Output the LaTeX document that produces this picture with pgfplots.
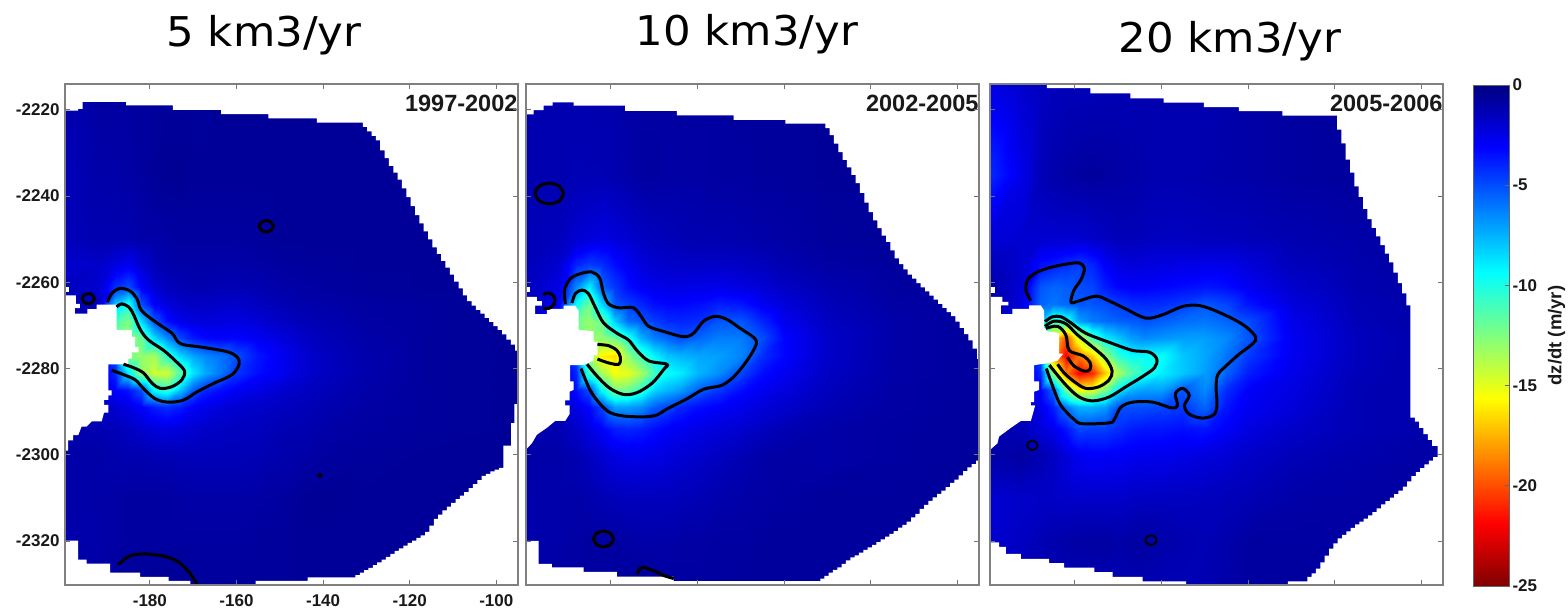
\documentclass[border=0pt]{standalone}
\usepackage{fontspec}
\setmainfont{Liberation Sans}
\newfontfamily\titlefont[FakeStretch=1.06]{DejaVu Sans}
\usepackage{pgfplots}
\pgfplotsset{compat=1.18}
\def\popv#1\\#2\popend{\def\val{#1}\gdef\rest{#2}}
\newcommand{\makefield}[1]{\gdef\rest{#1}\gdef\acc{}%
 \foreach \yy in {-2214,-2235,-2250,-2256,-2261,-2265,-2269,-2273,-2277,-2281,-2285,-2289,-2294,-2300,-2310,-2320,-2331}{%
  \foreach \xx in {-200,-192,-188,-185,-182,-179,-176,-173,-170,-167,-164,-160,-155,-150,-145,-140,-130,-115,-95}{%
   \expandafter\popv\rest\popend\xdef\acc{\acc(\xx,\yy)[\val]}}}%
 \edef\tmp{\noexpand\addplot[field] coordinates {\acc};}\tmp}
\tikzset{yr/.style={font=\bfseries\fontsize{23.5}{23.5}\selectfont,anchor=north east,text=black!90}}
\pgfplotsset{
 colormap={rjet}{rgb255(0cm)=(128,0,0); rgb255(1cm)=(255,0,0); rgb255(3cm)=(255,255,0); rgb255(5cm)=(0,255,255); rgb255(7cm)=(0,0,255); rgb255(8cm)=(0,0,128)},
 table/pa/.style={row sep=crcr,header=false,x expr={-180+(\thisrowno{0}-449)*0.0773},y expr={-2220-(\thisrowno{1}-118)*0.0801}},
 table/pb/.style={row sep=crcr,header=false,x expr={-180+(\thisrowno{0}-272)*0.077},y expr={-2220-(\thisrowno{1}-117)*0.0799}},
 table/pc/.style={row sep=crcr,header=false,x expr={-180+(\thisrowno{0}-267)*0.0771},y expr={-2220-(\thisrowno{1}-118)*0.08}},
 panel/.style={scale only axis,width=453pt,height=501pt,anchor=south west,
  xmin=-199.6,xmax=-95,ymin=-2330.2,ymax=-2214,axis on top,
  xtick={-180,-160,-140,-120,-100},ytick={-2320,-2300,-2280,-2260,-2240,-2220},
  tick align=inside,major tick length=5pt,tick style={gray!90!black,line width=0.8pt},
  axis line style={gray,line width=1.2pt},
  colormap name=rjet,point meta min=-25,point meta max=0,
  ticklabel style={font=\bfseries\fontsize{17}{17}\selectfont,text=black!90},
  /pgf/number format/assume math mode=true,/pgf/number format/1000 sep={},
  xticklabel style={yshift=-6pt},yticklabel style={xshift=-2pt}},
 field/.style={surf,shader=interp,mesh/cols=19,point meta=explicit},
 ct/.style={black,line width=3pt,smooth,tension=0.55},
 wm/.style={fill=white,draw=none,const plot},
 wp/.style={fill=white,draw=none}
}
\newcommand{\ttl}[3]{\node[font=\titlefont\fontsize{41}{41}\selectfont,anchor=base] at (#1pt,#2pt) {#3};}
\begin{document}
\begin{tikzpicture}[x=1pt,y=1pt]
\path[use as bounding box] (0,0) rectangle (1568,610);
\ttl{264}{563}{5 km3/yr}
\ttl{747}{564}{10 km3/yr}
\ttl{1230}{557}{20 km3/yr}
% ---------- panel 1
\begin{axis}[panel,at={(65pt,25pt)}]
\makefield{
-1\\-0.8\\-0.8\\-0.8\\-0.7\\-0.7\\-0.7\\-0.7\\-0.7\\-0.7\\-0.6\\-0.6\\-0.6\\-0.6\\-0.6\\-0.6\\-0.6\\-0.6\\-0.6\\
-1.5\\-1\\-1\\-0.9\\-0.8\\-0.6\\-0.5\\-0.5\\-0.6\\-0.6\\-0.6\\-0.6\\-0.6\\-0.6\\-0.6\\-0.6\\-0.6\\-0.6\\-0.6\\
-1.5\\-1.2\\-1.2\\-1.2\\-1\\-1\\-0.9\\-0.8\\-0.8\\-0.8\\-0.8\\-0.8\\-0.7\\-0.6\\-0.6\\-0.6\\-0.6\\-0.6\\-0.6\\
-2\\-1.8\\-2.4\\-2.8\\-2\\-1.4\\-1.1\\-1\\-1\\-1\\-1\\-1\\-0.9\\-0.8\\-0.7\\-0.7\\-0.6\\-0.6\\-0.6\\
-1.5\\-2\\-4.2\\-5\\-3\\-2\\-1.5\\-1.3\\-1.2\\-1.2\\-1.3\\-1.3\\-1.2\\-1\\-0.9\\-0.8\\-0.7\\-0.6\\-0.6\\
-1\\-1.5\\-8\\-10\\-5\\-3\\-2.2\\-1.8\\-1.7\\-1.7\\-1.8\\-1.9\\-1.6\\-1.3\\-1.1\\-1\\-0.8\\-0.7\\-0.6\\
-1\\-2\\-11\\-12.5\\-8.5\\-5.2\\-3.4\\-2.6\\-2.3\\-2.2\\-2.3\\-2.4\\-2.1\\-1.7\\-1.4\\-1.2\\-0.9\\-0.7\\-0.6\\
-2\\-3\\-12\\-13\\-12\\-8.5\\-6.5\\-4.8\\-3.7\\-3.2\\-3.1\\-3.2\\-2.8\\-2.3\\-1.8\\-1.4\\-1\\-0.7\\-0.6\\
-2\\-2\\-5\\-12.5\\-13\\-13.5\\-10.5\\-8.5\\-7.2\\-6.4\\-6\\-5\\-3.6\\-2.8\\-2.1\\-1.6\\-1.1\\-0.7\\-0.6\\
-2\\-2\\-4\\-9\\-13\\-14.5\\-14.5\\-11.5\\-8.8\\-7.2\\-6.2\\-4.4\\-3.4\\-2.8\\-2.1\\-1.6\\-1.1\\-0.7\\-0.6\\
-1.5\\-2\\-3\\-3.6\\-5\\-9.5\\-10.5\\-8\\-5.3\\-4\\-3.5\\-2.9\\-2.4\\-2\\-1.7\\-1.4\\-1\\-0.7\\-0.6\\
-1\\-1.5\\-2\\-2.4\\-3\\-3.8\\-4.2\\-3.8\\-3\\-2.6\\-2.3\\-2\\-1.8\\-1.6\\-1.4\\-1.2\\-0.9\\-0.7\\-0.6\\
-1\\-1.2\\-1.4\\-1.6\\-1.9\\-2.2\\-2.4\\-2.2\\-2\\-1.8\\-1.7\\-1.6\\-1.5\\-1.3\\-1.2\\-1\\-0.8\\-0.7\\-0.6\\
-1\\-1\\-1.1\\-1.2\\-1.2\\-1.3\\-1.3\\-1.4\\-1.4\\-1.4\\-1.4\\-1.4\\-1.3\\-1.1\\-1\\-0.8\\-0.7\\-0.6\\-0.6\\
-1\\-1\\-0.9\\-0.8\\-0.8\\-0.8\\-0.8\\-0.9\\-1\\-1\\-1\\-1\\-0.9\\-0.8\\-0.6\\-0.5\\-0.6\\-0.6\\-0.6\\
-1.1\\-1\\-0.9\\-0.8\\-0.8\\-0.8\\-0.8\\-0.8\\-0.8\\-0.8\\-0.8\\-0.8\\-0.7\\-0.7\\-0.6\\-0.6\\-0.6\\-0.6\\-0.6\\
-1\\-0.9\\-0.8\\-0.7\\-0.6\\-0.5\\-0.5\\-0.5\\-0.6\\-0.7\\-0.7\\-0.7\\-0.7\\-0.7\\-0.6\\-0.6\\-0.6\\-0.6\\-0.6\\
}
\addplot[wm] table[pa]{
190 35\\190 120\\235 115\\248 95\\378 105\\518 118\\662 130\\803 143\\948 155\\1085 167\\1098 180\\1111 193\\1124 206\\1137 235\\1150 258\\1163 280\\1176 300\\1189 320\\1202 345\\1215 371\\1228 397\\1241 423\\1254 447\\1267 470\\1280 493\\1293 516\\1306 535\\1319 555\\1332 575\\1345 595\\1358 615\\1371 635\\1384 655\\1397 672\\1410 685\\1423 697\\1436 708\\1449 720\\1462 732\\1475 744\\1488 755\\1501 768\\1514 783\\1527 798\\1540 815\\1560 35\\
};
\addplot[wm] table[pa]{
1560 970\\1538 1025\\1528 1090\\1505 1155\\1492 1160\\1479 1165\\1466 1172\\1453 1178\\1440 1190\\1427 1202\\1414 1213\\1401 1225\\1388 1235\\1375 1245\\1362 1256\\1349 1267\\1336 1278\\1323 1290\\1310 1302\\1297 1322\\1284 1340\\1271 1350\\1258 1357\\1245 1365\\1232 1372\\1219 1380\\1206 1388\\1193 1395\\1180 1404\\1167 1412\\1154 1420\\1141 1428\\1128 1436\\1115 1444\\1102 1451\\1089 1458\\1076 1465\\1063 1472\\920 1482\\765 1505\\1560 1505\\
};
\addplot[wm] table[pa]{
570 1482\\505 1470\\420 1458\\330 1432\\260 1420\\235 1365\\190 1505\\570 1505\\
};
\addplot[wp] table[pa]{
190 655\\228 655\\228 680\\240 680\\240 692\\225 692\\225 708\\262 708\\262 695\\290 695\\290 682\\350 682\\350 755\\395 755\\395 775\\405 775\\405 805\\415 805\\415 820\\395 820\\395 838\\385 838\\385 855\\325 855\\325 930\\335 930\\335 945\\325 945\\325 958\\312 958\\312 972\\325 972\\325 995\\312 995\\305 1020\\275 1020\\260 1035\\245 1035\\235 1060\\220 1060\\220 1075\\205 1075\\205 1105\\190 1105\\
};
\addplot[wp] table[pa]{190 630\\207 630\\207 645\\190 645\\};
\addplot[ct] coordinates {(-189.8,-2264.6)(-188.8,-2262.6)(-186.9,-2261.4)(-184.6,-2262)(-183,-2263.8)(-181.9,-2266.6)(-178.4,-2269.4)(-174.9,-2271.8)(-173,-2274.2)(-168.3,-2275)(-162.1,-2276.1)(-159.8,-2277.4)(-159.4,-2279)(-161,-2281.4)(-165.2,-2283.4)(-169.1,-2285.4)(-172.2,-2287.3)(-175.7,-2287.8)(-178.8,-2287)(-181.5,-2284.6)(-183.4,-2282.6)(-186.1,-2281.4)(-188.8,-2280.4)};
\addplot[ct] coordinates {(-187.7,-2265.7)(-186.5,-2265)(-184.9,-2265.7)(-183.8,-2267.4)(-182.2,-2271)(-180.3,-2273.4)(-176.8,-2275.8)(-173.7,-2278.6)(-172,-2280.6)(-172.6,-2282.6)(-174.9,-2284.2)(-177.6,-2284.6)(-179.5,-2283.4)(-181.5,-2281)(-183.8,-2279.8)(-186.1,-2279)};
\addplot[ct] coordinates {(-151.4,-2247)(-152.1,-2246)(-153.1,-2245.7)(-154.1,-2246)(-154.8,-2247)(-154.1,-2248)(-153.1,-2248.3)(-152.1,-2248)(-151.4,-2247)};
\addplot[ct] coordinates {(-192.8,-2263.8)(-193.3,-2262.9)(-194.2,-2262.6)(-195.2,-2263)(-195.6,-2263.8)(-195.1,-2264.7)(-194.2,-2265)(-193.3,-2264.7)(-192.8,-2263.8)};
\addplot[ct,line width=2pt] coordinates {(-140.3,-2304.8)(-140.7,-2304.5)(-141.1,-2304.8)(-140.7,-2305.1)(-140.3,-2304.8)};
\addplot[ct] coordinates {(-187.3,-2325.5)(-184.9,-2323.6)(-181.5,-2323)(-176.8,-2323.5)(-173.7,-2324.7)(-171.4,-2326.7)(-169.1,-2329.9)};
\node[yr] at (rel axis cs:1,1) [xshift=3pt,yshift=-8pt] {1997-2002};
\end{axis}
% ---------- panel 2
\begin{axis}[panel,at={(526pt,25pt)},xticklabels={},yticklabels={}]
\makefield{
-1.2\\-1.2\\-1.2\\-1.1\\-1\\-1\\-0.9\\-0.9\\-0.9\\-0.9\\-0.8\\-0.8\\-0.8\\-0.7\\-0.7\\-0.7\\-0.6\\-0.6\\-0.6\\
-1.2\\-1.2\\-1.3\\-1.3\\-1.3\\-1.2\\-1\\-0.8\\-0.8\\-0.9\\-0.9\\-0.9\\-0.8\\-0.8\\-0.7\\-0.7\\-0.6\\-0.6\\-0.6\\
-1.4\\-1.5\\-2\\-2.2\\-2.4\\-2.2\\-2\\-1.7\\-1.5\\-1.4\\-1.3\\-1.2\\-1.2\\-1.1\\-1\\-0.9\\-0.7\\-0.6\\-0.6\\
-1.4\\-2\\-4\\-4.6\\-4.2\\-3.4\\-2.8\\-2.3\\-2\\-1.9\\-1.8\\-1.8\\-1.8\\-1.7\\-1.5\\-1.2\\-0.9\\-0.7\\-0.6\\
-1.5\\-2.5\\-6.5\\-9\\-5.5\\-4.4\\-3.4\\-2.9\\-2.6\\-2.5\\-2.5\\-2.6\\-2.6\\-2.4\\-2.1\\-1.7\\-1.2\\-0.8\\-0.6\\
-1\\-3\\-9.5\\-12\\-8.2\\-5.2\\-4.6\\-4\\-3.4\\-3.2\\-3.2\\-3.4\\-3.8\\-3.6\\-2.8\\-2.2\\-1.4\\-0.9\\-0.7\\
-1\\-4\\-12\\-13\\-12\\-8\\-5.8\\-5.2\\-4.6\\-4.1\\-4\\-4.2\\-5.2\\-5.2\\-4\\-2.7\\-1.6\\-1\\-0.7\\
-2\\-3\\-12\\-13\\-13\\-12\\-10\\-7.5\\-6.2\\-5.6\\-5\\-5.6\\-6.2\\-6.2\\-5\\-3.2\\-1.8\\-1\\-0.7\\
-2\\-2\\-5\\-13\\-16\\-16.5\\-13\\-11\\-9.2\\-8\\-7.6\\-7.2\\-7\\-6.4\\-4.2\\-3.2\\-1.8\\-1\\-0.7\\
-2\\-2\\-4\\-11\\-13.5\\-15.5\\-15\\-13.5\\-11\\-9.5\\-9\\-7.6\\-6.6\\-4.8\\-3.4\\-2.8\\-1.7\\-1\\-0.7\\
-1.5\\-2\\-3.5\\-5\\-9.5\\-12.5\\-12\\-10.5\\-8.4\\-7.6\\-7\\-5.5\\-4.4\\-3.4\\-2.8\\-2.3\\-1.5\\-0.9\\-0.7\\
-1\\-1.5\\-2.4\\-3.2\\-4.8\\-7\\-7\\-6.6\\-5.4\\-4.8\\-4\\-3.4\\-3\\-2.6\\-2.2\\-1.9\\-1.3\\-0.9\\-0.7\\
-1\\-1.2\\-1.8\\-2.4\\-3\\-3.8\\-4\\-3.8\\-3.4\\-3\\-2.8\\-2.5\\-2.2\\-2\\-1.6\\-1.3\\-1\\-0.8\\-0.7\\
-1\\-1\\-1.2\\-1.6\\-2\\-2.4\\-2.6\\-2.6\\-2.5\\-2.3\\-2.1\\-1.9\\-1.6\\-1.3\\-1\\-0.9\\-1\\-0.8\\-0.7\\
-1.1\\-1\\-1\\-1.1\\-1.3\\-1.4\\-1.5\\-1.5\\-1.5\\-1.5\\-1.4\\-1.3\\-1.1\\-1\\-0.9\\-0.8\\-0.7\\-0.7\\-0.7\\
-1.1\\-1\\-0.9\\-0.8\\-0.8\\-0.8\\-0.9\\-1\\-1\\-1\\-0.9\\-0.9\\-0.8\\-0.8\\-0.7\\-0.7\\-0.7\\-0.7\\-0.7\\
-1\\-0.9\\-0.8\\-0.8\\-0.8\\-0.7\\-0.6\\-0.6\\-0.7\\-0.8\\-0.8\\-0.8\\-0.8\\-0.7\\-0.7\\-0.7\\-0.7\\-0.7\\-0.7\\
}
\addplot[wm] table[pb]{
10 35\\10 130\\40 118\\70 105\\97 95\\160 105\\315 120\\470 133\\640 146\\795 157\\915 170\\928 190\\941 215\\954 240\\967 262\\980 284\\993 306\\1006 330\\1019 358\\1032 386\\1045 414\\1058 438\\1071 460\\1084 482\\1097 500\\1110 525\\1123 548\\1136 565\\1149 580\\1162 595\\1175 607\\1188 620\\1201 632\\1214 644\\1227 656\\1240 668\\1253 680\\1266 692\\1279 704\\1292 716\\1305 732\\1318 750\\1331 768\\1344 786\\1357 810\\1370 840\\1390 35\\
};
\addplot[wm] table[pb]{
1390 1135\\1367 1145\\1354 1155\\1341 1166\\1328 1178\\1315 1190\\1302 1200\\1289 1212\\1276 1222\\1263 1232\\1250 1242\\1237 1252\\1224 1264\\1211 1275\\1198 1290\\1185 1300\\1172 1312\\1159 1322\\1146 1330\\1133 1340\\1120 1348\\1107 1356\\1094 1364\\1081 1372\\1068 1380\\1055 1387\\1042 1394\\1029 1402\\1016 1410\\1003 1416\\990 1425\\977 1435\\964 1445\\951 1452\\938 1460\\925 1470\\912 1478\\900 1485\\460 1472\\290 1458\\190 1445\\95 1435\\55 1368\\10 1505\\1390 1505\\
};
\addplot[wp] table[pb]{
10 660\\50 660\\50 672\\65 672\\65 685\\45 685\\45 710\\80 710\\80 695\\130 695\\130 685\\165 685\\175 700\\175 755\\220 760\\220 790\\232 790\\232 830\\220 830\\220 845\\190 858\\150 858\\150 905\\160 905\\160 930\\148 935\\148 960\\135 960\\135 975\\148 975\\148 1000\\135 1020\\105 1020\\80 1040\\50 1060\\35 1085\\10 1110\\
};
\addplot[wp] table[pb]{10 630\\30 630\\30 645\\10 645\\};
\addplot[ct] coordinates {(-190.5,-2265)(-190.7,-2261.8)(-189.4,-2259.2)(-187.1,-2258)(-184.4,-2257.6)(-182.6,-2259)(-181.7,-2262.6)(-180.5,-2265)(-178.2,-2265.9)(-174.8,-2265.9)(-172.8,-2268.2)(-171.3,-2270.2)(-167.8,-2271.4)(-163.2,-2272.6)(-160.9,-2271.8)(-158.6,-2269)(-155.9,-2267.9)(-153.2,-2268.6)(-150.1,-2270.7)(-147,-2272.8)(-146.4,-2274.2)(-147.8,-2277)(-150.1,-2280.2)(-152.4,-2282.6)(-154.7,-2284)(-158.6,-2284.8)(-162.4,-2287)(-167.1,-2289.4)(-169.4,-2290.8)(-172.5,-2291.2)(-177.1,-2291)(-180.2,-2290.2)(-182.5,-2288.2)(-184.8,-2285)(-186.9,-2280)};
\addplot[ct] coordinates {(-189,-2264.8)(-188.2,-2262.6)(-186.7,-2261.8)(-185.2,-2262.6)(-183.6,-2265.8)(-181.7,-2269.4)(-178.6,-2271.8)(-175.9,-2273.4)(-174,-2275.8)(-171.3,-2278.2)(-167.1,-2279)(-167.8,-2280.2)(-170.5,-2283.4)(-174,-2285.6)(-177.1,-2286)(-180.2,-2284.6)(-182.8,-2282.2)(-185.5,-2279)};
\addplot[ct] coordinates {(-183.1,-2274.4)(-180.5,-2274.7)(-178.6,-2275.8)(-177.8,-2277.4)(-178.2,-2279)(-180.5,-2278.7)(-183.1,-2277.8)};
\addplot[ct] coordinates {(-190.9,-2239.4)(-191.9,-2237.7)(-194.2,-2237)(-196.5,-2237.7)(-197.5,-2239.4)(-196.5,-2241.1)(-194.2,-2241.8)(-191.9,-2241.1)(-190.9,-2239.4)};
\addplot[ct] coordinates {(-179.4,-2319.5)(-180.1,-2318.2)(-181.7,-2317.7)(-183.3,-2318.2)(-184,-2319.5)(-183.3,-2320.8)(-181.7,-2321.3)(-180.1,-2320.8)(-179.4,-2319.5)};
\addplot[ct] coordinates {(-195.6,-2262.8)(-194.2,-2262.5)(-193,-2263.5)(-193.1,-2265)(-194.2,-2266)(-195.6,-2266)};
\addplot[ct] coordinates {(-174,-2327.7)(-172.8,-2326.1)(-170.1,-2326.9)(-167.8,-2328)(-165.5,-2328.7)};
\node[yr] at (rel axis cs:1,1) [xshift=3pt,yshift=-8pt] {2002-2005};
\end{axis}
% ---------- panel 3
\begin{axis}[panel,at={(990pt,25pt)},xticklabels={},yticklabels={}]
\makefield{
-2.5\\-1.8\\-1.6\\-1.5\\-1.4\\-1.4\\-1.4\\-1.4\\-1.3\\-1.3\\-1.2\\-1.2\\-1.2\\-1.2\\-1.1\\-1\\-0.8\\-0.7\\-0.7\\
-4.2\\-2.5\\-1.4\\-1.1\\-0.9\\-0.8\\-0.7\\-0.8\\-0.9\\-1\\-1.1\\-1.2\\-1.2\\-1.1\\-1\\-1\\-0.8\\-0.7\\-0.7\\
-2.2\\-2\\-2\\-2\\-2\\-2\\-1.8\\-1.6\\-1.4\\-1.4\\-1.5\\-1.6\\-1.6\\-1.5\\-1.5\\-1.4\\-1.2\\-1\\-0.8\\
-1.4\\-2\\-3.4\\-3.8\\-4.2\\-4.6\\-4\\-3\\-2.4\\-2.2\\-2.3\\-2.4\\-2.5\\-2.6\\-2.6\\-2.2\\-1.5\\-1.1\\-0.8\\
-1\\-2.2\\-5.2\\-5.6\\-5.4\\-5\\-4.8\\-3.8\\-3.2\\-3\\-3\\-3.2\\-3.4\\-3.6\\-3.4\\-2.8\\-1.9\\-1.2\\-0.8\\
-0.8\\-2.5\\-5.5\\-6\\-5.6\\-5.2\\-5.2\\-5\\-4.6\\-4.2\\-4.1\\-4.2\\-4.6\\-5.2\\-4.8\\-3.6\\-2.3\\-1.3\\-0.9\\
-1\\-2.5\\-8\\-11\\-10\\-7\\-6.2\\-5.8\\-5.5\\-5.3\\-5.1\\-5.4\\-5.8\\-6\\-5.6\\-5\\-2.6\\-1.4\\-0.9\\
-1.5\\-3\\-10\\-16\\-20\\-14.5\\-11\\-9\\-8\\-7\\-6.5\\-6.8\\-7\\-7\\-6.5\\-5.2\\-2.8\\-1.5\\-1\\
-2\\-2\\-5\\-18\\-22\\-19\\-17\\-13\\-10.5\\-9.5\\-9.5\\-9.5\\-8\\-7.2\\-6\\-4.5\\-2.8\\-1.5\\-1\\
-2\\-2\\-4\\-13\\-19\\-22\\-21\\-17\\-13.5\\-11.5\\-10\\-9\\-8\\-7\\-5.5\\-3.8\\-2.6\\-1.4\\-1\\
-1.2\\-2\\-3\\-5.5\\-12\\-15.5\\-15\\-12.5\\-9\\-7.5\\-7\\-7\\-5.2\\-6.5\\-4.2\\-3\\-2.4\\-1.3\\-1\\
-1\\-1.5\\-2.5\\-3.8\\-6\\-7.5\\-7.5\\-7\\-5\\-5\\-5\\-4.8\\-4.5\\-5.6\\-3.6\\-2.8\\-2.2\\-1.3\\-1\\
-1\\-1.4\\-2.2\\-2.6\\-3.6\\-4.8\\-4.6\\-4.6\\-4.2\\-3.8\\-3.6\\-3.6\\-3.4\\-3.6\\-3\\-2.4\\-1.8\\-1.3\\-1\\
-1\\-0.8\\-1.2\\-1.6\\-2.2\\-2.8\\-3\\-3\\-2.9\\-2.8\\-2.7\\-2.7\\-2.5\\-2.3\\-2.1\\-1.8\\-1.4\\-1.1\\-0.9\\
-2\\-1.8\\-1.7\\-1.7\\-1.8\\-1.8\\-1.8\\-1.8\\-1.8\\-1.7\\-1.6\\-1.6\\-1.6\\-1.5\\-1.4\\-1.3\\-1\\-0.9\\-0.8\\
-2\\-1.6\\-1.3\\-1.1\\-1\\-0.9\\-0.9\\-0.9\\-1\\-0.9\\-0.8\\-1\\-1.2\\-1.3\\-1.1\\-0.8\\-0.8\\-0.9\\-0.8\\
-1.5\\-1.4\\-1.3\\-1.3\\-1.3\\-1.2\\-1.2\\-1.2\\-1.2\\-1.2\\-1.2\\-1.3\\-1.3\\-1.2\\-1\\-0.8\\-0.7\\-0.8\\-0.8\\
}
\addplot[wm] table[pc]{
5 35\\183 55\\313 70\\433 85\\533 97\\653 110\\758 122\\888 135\\1052 175\\1065 215\\1078 262\\1091 300\\1104 340\\1117 370\\1130 405\\1143 435\\1156 460\\1169 485\\1182 510\\1195 535\\1208 560\\1221 590\\1234 620\\1247 650\\1260 685\\1273 35\\
};
\addplot[wm] table[pc]{
1272 35\\1272 1010\\1285 1022\\1298 1040\\1311 1058\\1324 1075\\1337 1092\\1353 1125\\1340 1135\\1327 1146\\1314 1157\\1301 1168\\1288 1180\\1275 1195\\1262 1210\\1249 1222\\1236 1232\\1223 1242\\1210 1252\\1197 1262\\1184 1273\\1171 1284\\1158 1294\\1145 1303\\1132 1312\\1119 1320\\1106 1330\\1093 1340\\1080 1350\\1067 1360\\1054 1375\\1041 1390\\1028 1410\\1015 1430\\1002 1448\\989 1462\\976 1472\\963 1485\\905 1505\\1390 1505\\1390 35\\
};
\addplot[wm] table[pc]{
600 1485\\470 1472\\380 1458\\325 1445\\235 1432\\190 1420\\105 1405\\60 1385\\40 1372\\5 1505\\600 1505\\
};
\addplot[wp] table[pc]{
5 660\\50 660\\50 675\\68 675\\68 685\\45 685\\45 710\\80 710\\80 695\\130 695\\130 685\\165 685\\175 700\\175 750\\185 760\\220 765\\220 825\\232 825\\215 845\\190 852\\145 858\\145 905\\160 905\\160 930\\145 935\\145 965\\135 965\\135 975\\148 975\\135 1020\\105 1020\\75 1040\\40 1065\\35 1085\\5 1110\\
};
\addplot[wp] table[pc]{5 632\\28 632\\28 648\\5 648\\};
\addplot[ct] coordinates {(-190.2,-2264.3)(-191.3,-2261.8)(-190.9,-2259.4)(-189,-2257.8)(-185.9,-2256.6)(-182.1,-2255.8)(-179,-2255.5)(-177.8,-2256.8)(-178.6,-2259.4)(-180.2,-2261.8)(-180.9,-2264.6)(-179,-2264.3)(-175.1,-2263.2)(-172.1,-2264.3)(-168.2,-2266.2)(-163.6,-2268.3)(-159.7,-2267.5)(-155.1,-2265.6)(-151.2,-2265.4)(-146.6,-2267)(-141.2,-2269.8)(-138.3,-2272.6)(-138.9,-2274.2)(-142,-2276.6)(-145.1,-2279.4)(-147,-2281.4)(-147.4,-2284.2)(-147.2,-2288.2)(-147.8,-2290.6)(-150.5,-2291.5)(-153.6,-2290.6)(-154.7,-2288.6)(-153.6,-2286.2)(-155.1,-2284.6)(-156.8,-2285.8)(-156.3,-2288.6)(-157.8,-2289.1)(-162,-2287.8)(-166.7,-2287.8)(-169.4,-2289)(-170.9,-2291.8)(-172.1,-2292.6)(-178.2,-2292.8)(-180.2,-2291.8)(-183.2,-2288.6)(-184.8,-2285)(-186.6,-2280)};
\addplot[ct] coordinates {(-186.9,-2269.1)(-185.2,-2268)(-183.2,-2268)(-180.9,-2269.4)(-177.5,-2271.8)(-171.3,-2274.2)(-166.7,-2275.8)(-162.8,-2276.2)(-161.1,-2277.8)(-161.6,-2279.8)(-164.3,-2281.8)(-168.2,-2284.2)(-172.1,-2286.6)(-175.9,-2287.5)(-179,-2286.6)(-182.1,-2283.8)(-185.9,-2279.2)};
\addplot[ct] coordinates {(-186.9,-2270.2)(-184.8,-2269)(-182.1,-2269.6)(-179.4,-2272.2)(-175.9,-2275)(-172.8,-2277.8)(-171.4,-2280.6)(-172.1,-2282.6)(-174.4,-2284.2)(-177.5,-2284.6)(-180.2,-2283)(-182.5,-2281)(-184,-2279)};
\addplot[ct] coordinates {(-186.7,-2270.7)(-184,-2270.2)(-182.1,-2272.2)(-181.3,-2275.8)(-178.2,-2277)(-176.5,-2278.6)(-176.5,-2280.2)(-177.8,-2280.6)(-180.2,-2279.4)(-181.7,-2277.4)};
\addplot[ct,line width=1.8pt] coordinates {(-188.6,-2297.8)(-189,-2297)(-189.8,-2296.7)(-190.6,-2297)(-191,-2297.8)(-190.6,-2298.6)(-189.8,-2298.9)(-189,-2298.6)(-188.6,-2297.8)};
\addplot[ct,line width=1.8pt] coordinates {(-161.1,-2319.8)(-161.5,-2319)(-162.4,-2318.7)(-163.3,-2319)(-163.7,-2319.8)(-163.3,-2320.6)(-162.4,-2320.9)(-161.5,-2320.6)(-161.1,-2319.8)};
\node[yr] at (rel axis cs:1,1) [xshift=3pt,yshift=-8pt] {2005-2006};
\end{axis}
% ---------- colour bar
\begin{axis}[scale only axis,width=36pt,height=501pt,anchor=south west,at={(1473pt,24pt)},
  xmin=0,xmax=1,ymin=-25,ymax=0,axis on top,xtick=\empty,ytick={0,-5,-10,-15,-20,-25},
  ytick pos=right,yticklabel pos=right,tick align=inside,major tick length=4pt,
  tick style={black!60,line width=0.6pt},axis line style={black!60,line width=0.6pt},
  colormap name=rjet,point meta min=-25,point meta max=0,
  ticklabel style={font=\bfseries\fontsize{17}{17}\selectfont,text=black!90},
  /pgf/number format/assume math mode=true,
  ylabel={dz/dt (m/yr)},ylabel near ticks,ylabel style={font=\bfseries\fontsize{18.5}{18.5}\selectfont,text=black!90,yshift=-4pt}]
\addplot[surf,shader=interp,mesh/cols=2,point meta=y] coordinates {(0,-25)(1,-25)(0,-22)(1,-22)(0,-20)(1,-20)(0,-15)(1,-15)(0,-10)(1,-10)(0,-5)(1,-5)(0,0)(1,0)};
\end{axis}
\end{tikzpicture}
\end{document}
